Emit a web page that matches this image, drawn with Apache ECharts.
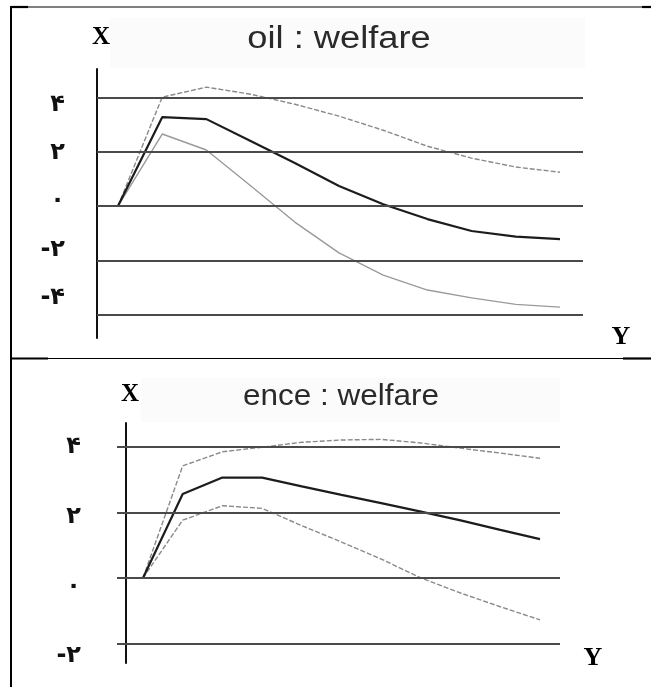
<!DOCTYPE html>
<html>
<head>
<meta charset="utf-8">
<script src="https://cdn.jsdelivr.net/npm/echarts@6/dist/echarts.min.js"></script>
<style>
html, body { margin: 0; padding: 0; background: #fff; }
#chart { width: 651px; height: 687px; }
</style>
</head>
<body>
<div id="chart"></div>
<script>
// Periods along the horizontal (Y) axis
const periods = [1, 2, 3, 4, 5, 6, 7, 8, 9, 10, 11];

// Panel 1: oil shock, welfare response (mid estimate with upper / lower band)
const oilMid   = [0, 3.28, 3.21, 2.40, 1.59, 0.74, 0.07, -0.48, -0.92, -1.13, -1.22];
const oilUpper = [0, 4.02, 4.39, 4.13, 3.76, 3.32, 2.80, 2.21, 1.77, 1.44, 1.25];
const oilLower = [0, 2.66, 2.07, 0.75, -0.59, -1.73, -2.55, -3.10, -3.39, -3.63, -3.73];

// Panel 2: ence shock, welfare response
const enceMid   = [0, 2.57, 3.07, 3.07, 2.80, 2.54, 2.29, 2.03, 1.76, 1.47, 1.19];
const enceUpper = [0, 3.43, 3.86, 4.00, 4.15, 4.22, 4.24, 4.13, 3.97, 3.82, 3.66];
const enceLower = [0, 1.77, 2.21, 2.13, 1.60, 1.10, 0.58, 0.00, -0.46, -0.88, -1.28];

// Reference levels and their Persian tick labels
const oilTicks = [4, 2, 0, -2, -4];
const oilTickLabels = ['۴', '۲', '۰', '-۲', '-۴'];
const enceTicks = [4, 2, 0, -2];
const enceTickLabels = ['۴', '۲', '۰', '-۲'];

const oilTitle = 'oil : welfare';
const enceTitle = 'ence : welfare';

const pairs = arr => periods.map((p, i) => [p, arr[i]]);

const labelFont = {
  fontFamily: 'DejaVu Sans',
  fontWeight: 'bold',
  fontSize: 24,
  color: '#111'
};

function dataAxis(gridIndex, min, max, offset) {
  return {
    type: 'value', gridIndex, min, max, position: 'left', offset,
    axisLine: { show: true, onZero: false, lineStyle: { color: '#111', width: 2 } },
    axisTick: { show: false }, axisLabel: { show: false }, splitLine: { show: false }
  };
}

function labelAxis(gridIndex, min, max, ticks, texts, margin) {
  return {
    type: 'value', gridIndex, min, max, position: 'left',
    axisLine: { show: false }, axisTick: { show: false }, splitLine: { show: false },
    axisLabel: Object.assign({
      customValues: ticks,
      margin,
      formatter: v => {
        const k = ticks.indexOf(v);
        return k >= 0 ? texts[k] : '';
      }
    }, labelFont)
  };
}

function bandSeries(name, data, xi, yi, style, z, gridLevels) {
  const s = {
    name, type: 'line', xAxisIndex: xi, yAxisIndex: yi, data: pairs(data),
    showSymbol: false, symbol: 'none', smooth: false, z,
    lineStyle: style, silent: true
  };
  if (gridLevels) {
    s.markLine = {
      silent: true, symbol: ['none', 'none'], label: { show: false },
      lineStyle: { color: '#4a4a4a', width: 2, type: 'solid' },
      emphasis: { disabled: true },
      data: gridLevels.map(v => ({ yAxis: v }))
    };
  }
  return s;
}

const darkLine = { color: '#1c1c1c', width: 2.2, type: 'solid' };
const lightDashed = { color: '#8a8a8a', width: 1.4, type: [5, 2] };
const lightSolid = { color: '#9a9a9a', width: 1.4, type: 'solid' };

const chart = echarts.init(document.getElementById('chart'), null, { renderer: 'canvas' });

chart.setOption({
  animation: false,
  backgroundColor: '#fff',
  grid: [
    { left: 97, right: 68, top: 69, height: 269 },
    { left: 117, right: 91, top: 423, height: 240 }
  ],
  xAxis: [
    { type: 'value', gridIndex: 0, min: 0.525, max: 11.52, show: false },
    { type: 'value', gridIndex: 1, min: 0.345, max: 11.504, show: false }
  ],
  yAxis: [
    dataAxis(0, -4.87, 5.06, 0),
    labelAxis(0, -5.653, 5.463, oilTicks, oilTickLabels, 32),
    dataAxis(1, -2.60, 4.74, -9),
    labelAxis(1, -2.20, 4.69, enceTicks, enceTickLabels, 36)
  ],
  series: [
    bandSeries('oil lower', oilLower, 0, 0, lightSolid, 1, oilTicks),
    bandSeries('oil upper', oilUpper, 0, 0, lightDashed, 3),
    bandSeries('oil mid', oilMid, 0, 0, darkLine, 4),
    bandSeries('ence lower', enceLower, 1, 2, lightDashed, 1, enceTicks),
    bandSeries('ence upper', enceUpper, 1, 2, lightDashed, 3),
    bandSeries('ence mid', enceMid, 1, 2, darkLine, 4)
  ],
  graphic: [
    // frame lines
    { type: 'line', shape: { x1: 11, y1: 7, x2: 651, y2: 7 }, style: { stroke: '#000', lineWidth: 1.2 } },
    { type: 'line', shape: { x1: 11, y1: 7, x2: 28, y2: 7 }, style: { stroke: '#000', lineWidth: 2.2 } },
    { type: 'line', shape: { x1: 642, y1: 7, x2: 651, y2: 7 }, style: { stroke: '#000', lineWidth: 2.2 } },
    { type: 'line', shape: { x1: 11, y1: 6, x2: 11, y2: 687 }, style: { stroke: '#000', lineWidth: 2 } },
    { type: 'line', shape: { x1: 11, y1: 358.5, x2: 651, y2: 358.5 }, style: { stroke: '#000', lineWidth: 1.2 } },
    { type: 'line', shape: { x1: 11, y1: 358.5, x2: 48, y2: 358.5 }, style: { stroke: '#000', lineWidth: 2.2 } },
    { type: 'line', shape: { x1: 623, y1: 358.5, x2: 651, y2: 358.5 }, style: { stroke: '#000', lineWidth: 2.2 } },
    // faint title plates
    { type: 'rect', shape: { x: 110, y: 18, width: 475, height: 50 }, style: { fill: '#fbfbfb' }, z: -1 },
    { type: 'rect', shape: { x: 141, y: 378, width: 419, height: 44 }, style: { fill: '#fbfbfb' }, z: -1 },
    // titles
    { type: 'text', x: 339, y: 39, scaleX: 1.17, style: { text: oilTitle, font: '31px "Liberation Sans"', textAlign: 'center', textVerticalAlign: 'middle', fill: '#2a2a2a' } },
    { type: 'text', x: 341, y: 397, scaleX: 1.05, style: { text: enceTitle, font: '30px "Liberation Sans"', textAlign: 'center', textVerticalAlign: 'middle', fill: '#2a2a2a' } },
    // axis letters
    { type: 'text', x: 101, y: 38, style: { text: 'X', font: 'bold 25px "Liberation Serif"', textAlign: 'center', textVerticalAlign: 'middle', fill: '#000' } },
    { type: 'text', x: 621, y: 337, style: { text: 'Y', font: 'bold 26px "Liberation Serif"', textAlign: 'center', textVerticalAlign: 'middle', fill: '#000' } },
    { type: 'text', x: 130, y: 395, style: { text: 'X', font: 'bold 25px "Liberation Serif"', textAlign: 'center', textVerticalAlign: 'middle', fill: '#000' } },
    { type: 'text', x: 593, y: 658, style: { text: 'Y', font: 'bold 26px "Liberation Serif"', textAlign: 'center', textVerticalAlign: 'middle', fill: '#000' } }
  ]
});
</script>
</body>
</html>
